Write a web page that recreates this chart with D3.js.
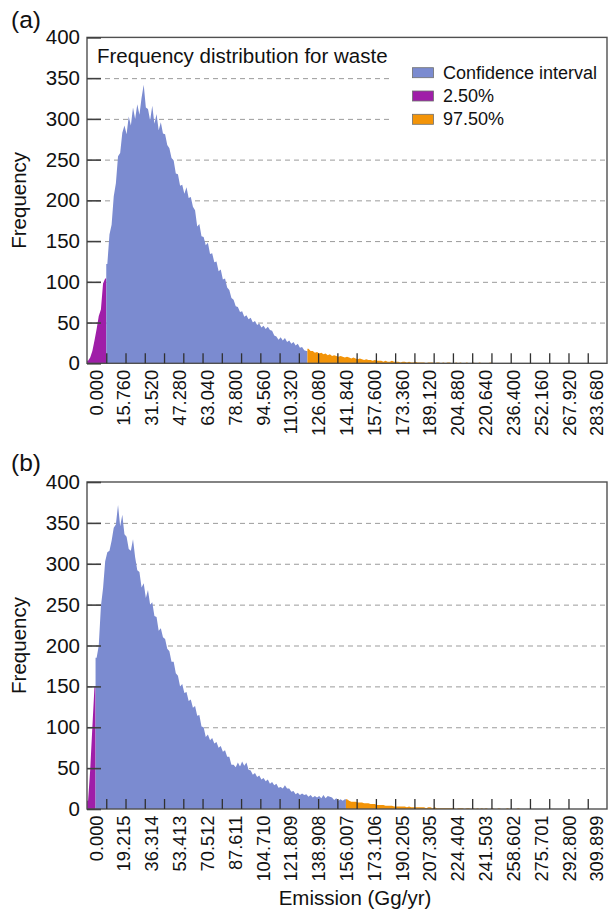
<!DOCTYPE html>
<html>
<head>
<meta charset="utf-8">
<script src="https://cdn.jsdelivr.net/npm/d3@7"></script>
<style>
  html, body { margin: 0; padding: 0; background: #fff; }
  svg { display: block; font-family: "Liberation Sans", Arial, Helvetica, sans-serif; }
</style>
</head>
<body>
<svg id="chart" width="611" height="912"></svg>
<script>
// Monte Carlo frequency counts, 243 equal-width bins per panel
const countsA = [
  3, 7, 15, 28, 42, 58, 66, 98, 104, 122,
  158, 170, 205, 221, 254, 258, 283, 292, 281, 303,
  292, 314, 300, 318, 305, 326, 342, 314, 312, 298,
  316, 294, 306, 286, 296, 282, 281, 268, 264, 252,
  249, 233, 232, 218, 219, 208, 216, 203, 204, 192,
  188, 168, 171, 156, 155, 145, 148, 134, 135, 124,
  125, 113, 115, 103, 104, 93, 90, 80, 78, 70,
  69, 63, 64, 57, 59, 54, 56, 50, 52, 47,
  49, 44, 46, 42, 45, 41, 40, 34, 33, 29,
  32, 28, 31, 26, 28, 24, 26, 22, 24, 19,
  20, 16, 15, 18, 15, 15, 13, 14, 12, 13,
  11, 12, 10, 11, 9, 10, 9, 8, 9, 8,
  7, 8, 7, 6, 7, 6, 5, 6, 5, 4,
  5, 4, 4, 3, 4, 3, 3, 3, 2, 3,
  2, 2, 3, 2, 2, 2, 1, 2, 2, 1,
  2, 1, 1, 2, 1, 1, 1, 1, 0, 1,
  1, 1, 0, 1, 1, 0, 1, 0, 1, 1,
  0, 0, 1, 0, 1, 0, 0, 1, 0, 0,
  1, 0, 0, 1, 0, 0, 0, 0, 1, 0,
  0, 0, 0, 0, 0, 0, 0, 0, 0, 0,
  0, 0, 0, 0, 0, 0, 0, 0, 0, 0,
  0, 0, 0, 0, 0, 0, 0, 0, 0, 0,
  0, 0, 0, 0, 0, 0, 0, 0, 0, 0,
  0, 0, 0, 0, 0, 0, 0, 0, 0, 0,
  0, 0, 0
];
const countsB = [
  10, 48, 100, 150, 185, 200, 248, 270, 303, 314,
  316, 328, 344, 348, 372, 346, 360, 336, 333, 318,
  316, 330, 308, 292, 290, 271, 276, 258, 268, 250,
  253, 236, 235, 218, 221, 210, 208, 196, 193, 180,
  180, 166, 163, 150, 153, 142, 143, 132, 134, 124,
  126, 114, 115, 101, 100, 88, 91, 84, 87, 80,
  82, 75, 77, 70, 72, 64, 64, 54, 54, 51,
  57, 52, 58, 53, 57, 48, 47, 42, 44, 39,
  41, 36, 38, 34, 36, 31, 33, 29, 31, 26,
  27, 25, 29, 25, 25, 21, 22, 18, 20, 17,
  19, 17, 18, 15, 17, 14, 16, 14, 16, 13,
  17, 13, 16, 15, 14, 11, 13, 10, 12, 10,
  12, 12, 10, 9, 9, 9, 8, 8, 8, 7,
  7, 7, 6, 6, 6, 5, 5, 5, 5, 4,
  4, 4, 4, 3, 3, 3, 3, 3, 3, 2,
  3, 2, 2, 2, 2, 2, 2, 2, 1, 2,
  2, 1, 2, 1, 1, 1, 1, 1, 1, 1,
  1, 1, 0, 1, 1, 1, 0, 1, 1, 0,
  1, 0, 1, 0, 1, 0, 1, 0, 0, 1,
  0, 0, 1, 0, 0, 0, 1, 0, 0, 0,
  0, 1, 0, 0, 0, 0, 0, 0, 0, 0,
  0, 0, 0, 0, 0, 0, 0, 0, 0, 0,
  0, 0, 0, 0, 0, 0, 0, 0, 0, 0,
  0, 0, 0, 0, 0, 0, 0, 0, 0, 0,
  0, 0, 0
];

// first bin of the central range and first bin of the upper tail
const tailBinsA = [9, 103];
const tailBinsB = [4, 121];

// category labels, one every 13 bins
const labelsA = ["0.000", "15.760", "31.520", "47.280", "63.040", "78.800", "94.560",
  "110.320", "126.080", "141.840", "157.600", "173.360", "189.120", "204.880",
  "220.640", "236.400", "252.160", "267.920", "283.680"];
const labelsB = ["0.000", "19.215", "36.314", "53.413", "70.512", "87.611", "104.710",
  "121.809", "138.908", "156.007", "173.106", "190.205", "207.305", "224.404",
  "241.503", "258.602", "275.701", "292.800", "309.899"];

const yTickValues = [0, 50, 100, 150, 200, 250, 300, 350, 400];
const gridValues = [50, 100, 150, 200, 250, 300, 350];

const seriesNames = ["Confidence interval", "2.50%", "97.50%"];
const seriesColors = ["#7b8bd0", "#9f1ea8", "#f39408"];

const svg = d3.select("#chart");
const plotLeft = 87, plotRight = 607;
const binsPerTick = 9, binsPerLabel = 13, labelOffset = 4;

function drawPanel(counts, tails, labels, top, bottom, letter, letterY) {
  const n = counts.length;
  const x = d3.scaleLinear().domain([0, n]).range([plotLeft, plotRight]);
  const y = d3.scaleLinear().domain([0, 400]).range([bottom, top]);
  const g = svg.append("g");

  // dashed horizontal grid
  g.append("g")
    .attr("transform", `translate(${plotLeft},0)`)
    .call(d3.axisLeft(y).tickValues(gridValues).tickSize(-(plotRight - plotLeft)).tickFormat(""))
    .call(a => a.select(".domain").remove())
    .call(a => a.selectAll("line").attr("stroke", "#9b9b9b").attr("stroke-width", 1).attr("stroke-dasharray", "5,4"));

  // histogram, split into lower tail / central / upper tail
  const segments = [
    { from: 0, to: tails[0], color: seriesColors[1] },
    { from: tails[0], to: tails[1], color: seriesColors[0] },
    { from: tails[1], to: n, color: seriesColors[2] }
  ];
  const area = d3.area()
    .x(d => x(d[0]))
    .y0(y(0))
    .y1(d => y(d[1]))
    .curve(d3.curveLinear);
  segments.forEach(s => {
    const pts = [[s.from, counts[s.from]]];
    for (let i = s.from; i < s.to; i++) pts.push([i + 0.5, counts[i]]);
    pts.push([s.to, counts[s.to - 1]]);
    g.append("path").attr("d", area(pts)).attr("fill", s.color);
  });

  // plot frame
  g.append("rect")
    .attr("x", plotLeft).attr("y", top)
    .attr("width", plotRight - plotLeft).attr("height", bottom - top)
    .attr("fill", "none").attr("stroke", "#505050").attr("stroke-width", 1.4);

  // y axis: inward ticks and labels
  g.append("g")
    .attr("transform", `translate(${plotLeft},0)`)
    .call(d3.axisLeft(y).tickValues(yTickValues).tickSize(-14).tickPadding(7))
    .call(a => a.select(".domain").remove())
    .call(a => a.selectAll("line").attr("stroke", "#404040").attr("stroke-width", 1.6))
    .call(a => a.selectAll("text").attr("font-size", 20.5).attr("fill", "#111")
      .attr("font-family", "'Liberation Sans', Arial, sans-serif"));

  // x axis: inward tick marks every few bins
  const tickIdx = d3.range(binsPerTick, n, binsPerTick);
  g.append("g")
    .attr("transform", `translate(0,${bottom})`)
    .call(d3.axisBottom(x).tickValues(tickIdx).tickSize(-10).tickFormat(""))
    .call(a => a.select(".domain").remove())
    .call(a => a.selectAll("line").attr("stroke", "#303030").attr("stroke-width", 1.3));

  // x axis: rotated category labels
  const labelIdx = labels.map((_, k) => k * binsPerLabel + labelOffset);
  g.append("g")
    .attr("transform", `translate(0,${bottom})`)
    .call(d3.axisBottom(x).tickValues(labelIdx).tickSize(0).tickFormat((d, k) => labels[k]))
    .call(a => a.select(".domain").remove())
    .call(a => a.selectAll("text")
      .attr("font-size", 18.3).attr("fill", "#111")
      .attr("font-family", "'Liberation Sans', Arial, sans-serif")
      .attr("transform", "rotate(-90)")
      .attr("x", -6.5).attr("y", 0).attr("dy", "0.36em")
      .attr("text-anchor", "end"));

  // y axis title
  svg.append("text")
    .attr("transform", `translate(26,${(top + bottom) / 2}) rotate(-90)`)
    .attr("text-anchor", "middle")
    .attr("font-size", 20.5).attr("fill", "#111")
    .text("Frequency");

  // panel letter
  svg.append("text")
    .attr("x", 11).attr("y", letterY)
    .attr("font-size", 24.5).attr("fill", "#111")
    .text(letter);

  return { x, y, g };
}

drawPanel(countsA, tailBinsA, labelsA, 37.4, 363.3, "(a)", 27.5);
drawPanel(countsB, tailBinsB, labelsB, 482, 809, "(b)", 471);

// title of panel (a)
svg.append("text")
  .attr("x", 97).attr("y", 63)
  .attr("font-size", 20.5).attr("fill", "#111")
  .text("Frequency distribution for waste");

// legend of panel (a)
const legend = svg.append("g");
legend.append("rect")
  .attr("x", 393).attr("y", 58).attr("width", 212).attr("height", 78)
  .attr("fill", "#fff");
seriesNames.forEach((name, k) => {
  const yy = 67.7 + k * 23.3;
  legend.append("rect")
    .attr("x", 412.5).attr("y", yy).attr("width", 21).attr("height", 10)
    .attr("fill", seriesColors[k]).attr("stroke", "#6f6f6f").attr("stroke-width", 0.8);
  legend.append("text")
    .attr("x", 443).attr("y", yy + 10.8)
    .attr("font-size", 18).attr("fill", "#111")
    .text(name);
});

// x axis title
svg.append("text")
  .attr("x", 355).attr("y", 905)
  .attr("text-anchor", "middle")
  .attr("font-size", 20.5).attr("fill", "#111")
  .text("Emission (Gg/yr)");
</script>
</body>
</html>
